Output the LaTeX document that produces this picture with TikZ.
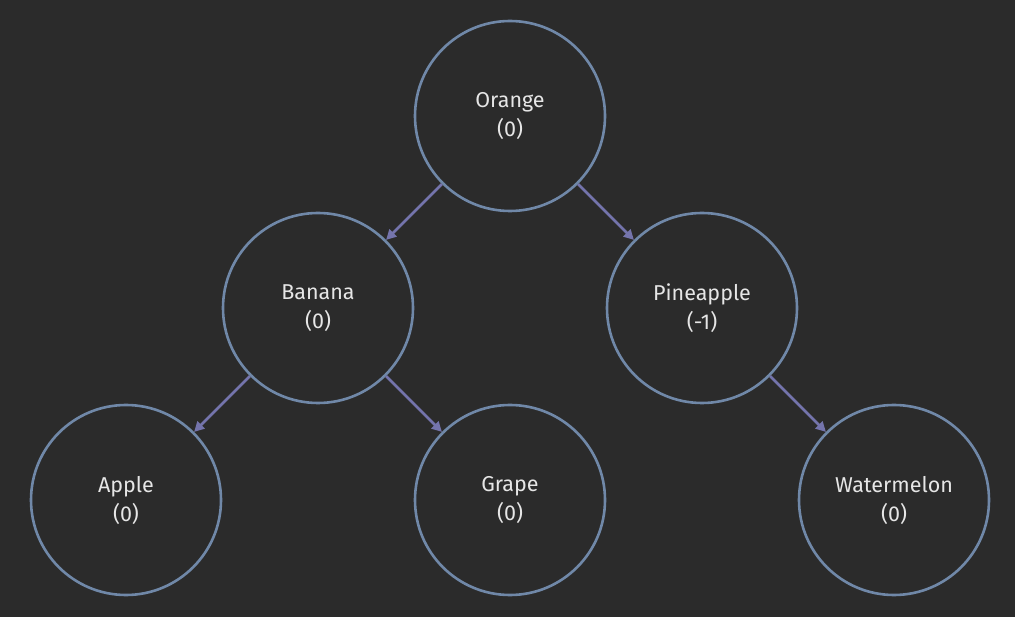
\documentclass[tikz,border=0pt]{standalone}
\usepackage{fontspec}
\setmainfont{Fira Sans}
\usetikzlibrary{arrows.meta}
\definecolor{bg}{HTML}{2B2B2B}
\definecolor{ring}{HTML}{7088A8}
\definecolor{edgec}{HTML}{7474AC}
\definecolor{txt}{HTML}{E6E6E6}
\begin{document}
\begin{tikzpicture}[x=1pt,y=-1pt,
  fruit/.style={circle,draw=ring,line width=2.6pt,minimum size=190pt,inner sep=0pt,
    text=txt,font=\fontsize{21.5}{29}\selectfont,align=center},
  link/.style={draw=edgec,line width=2.5pt,-{Triangle[length=10pt,width=10pt]}}]
\fill[bg] (0,0) rectangle (1015,617);
\useasboundingbox (0,0) rectangle (1015,617);
\node[fruit] (orange) at (510,116) {Orange\\(0)};
\node[fruit] (banana) at (318,308) {Banana\\(0)};
\node[fruit] (pine) at (702,308) {Pineapple\\(-1)};
\node[fruit] (apple) at (126,500) {Apple\\(0)};
\node[fruit] (grape) at (510,500) {Grape\\(0)};
\node[fruit] (water) at (894,500) {Watermelon\\(0)};
\draw[link] (orange) -- (banana);
\draw[link] (orange) -- (pine);
\draw[link] (banana) -- (apple);
\draw[link] (banana) -- (grape);
\draw[link] (pine) -- (water);
\end{tikzpicture}
\end{document}
